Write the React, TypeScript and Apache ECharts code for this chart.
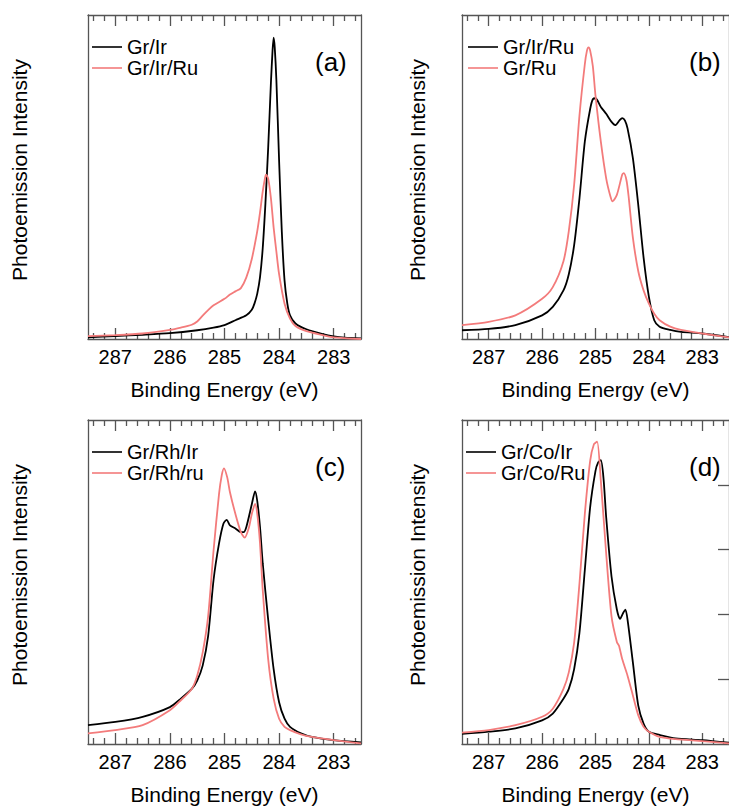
import React, { useEffect, useRef } from "react";
import * as echarts from "echarts";

// ---------- data (binding energy eV, intensity 0..100 of panel height) ----------
const MAJOR_TICKS = [283, 284, 285, 286, 287];
const MINOR_TICKS = [282.6, 282.8, 283.2, 283.4, 283.6, 283.8, 284.2, 284.4, 284.6, 284.8, 285.2, 285.4, 285.6, 285.8, 286.2, 286.4, 286.6, 286.8, 287.2, 287.4];
const D_RIGHT_TICKS = [20, 40, 60, 80];

const A_GR_IR: [number, number][] = [
  [287.5, 0.5], [287.0, 0.9], [286.5, 1.3], [286.0, 1.8], [285.5, 2.7], [285.2, 3.5], [285.0, 4.3],
  [284.8, 5.8], [284.6, 7.3], [284.5, 9], [284.45, 11], [284.4, 14], [284.35, 19], [284.3, 28],
  [284.25, 42], [284.2, 59], [284.15, 79], [284.12, 89], [284.1, 93], [284.08, 90], [284.05, 80],
  [284.0, 55], [283.95, 33], [283.9, 18], [283.85, 11], [283.8, 7.3], [283.7, 4.8], [283.5, 3],
  [283.2, 1.5], [283.0, 0.8], [282.8, 0.4], [282.5, 0.2],
];
const A_GR_IR_RU: [number, number][] = [
  [287.5, 0.9], [287.0, 1.2], [286.5, 1.7], [286.0, 2.8], [285.8, 3.5], [285.6, 4.4], [285.5, 5.4],
  [285.4, 7.2], [285.3, 8.9], [285.2, 10.4], [285.0, 12.4], [284.9, 13.7], [284.8, 14.7], [284.7, 15.7],
  [284.6, 19], [284.5, 24.7], [284.4, 33.3], [284.35, 39], [284.3, 45.5], [284.26, 49.5], [284.24, 50.7],
  [284.2, 49.5], [284.15, 43.5], [284.1, 34.4], [284.05, 27], [284.0, 20], [283.9, 10.9], [283.8, 6.3],
  [283.7, 4], [283.5, 2.4], [283.2, 1.2], [283.0, 0.5], [282.5, 0],
];

const B_GR_IR_RU: [number, number][] = [
  [287.5, 2.7], [287.0, 3.1], [286.5, 4.3], [286.0, 7.3], [285.8, 9.9], [285.6, 15], [285.5, 20],
  [285.4, 29], [285.3, 43.5], [285.2, 60.9], [285.1, 71], [285.05, 74], [285.0, 74.3], [284.9, 71.6],
  [284.8, 69.5], [284.7, 67], [284.63, 66], [284.55, 67.5], [284.5, 68.2], [284.45, 67.5], [284.4, 65],
  [284.3, 55.8], [284.2, 41.5], [284.1, 25.2], [284.0, 13], [283.9, 5.8], [283.8, 3.8], [283.6, 2.8],
  [283.4, 2.2], [283.0, 1.7], [282.5, 0.6],
];
const B_GR_RU: [number, number][] = [
  [287.5, 4.3], [287.0, 5.3], [286.5, 7.3], [286.0, 12.4], [285.8, 16], [285.6, 24], [285.5, 33.3],
  [285.4, 47.6], [285.3, 69], [285.2, 84.8], [285.16, 89], [285.13, 90], [285.1, 89], [285.05, 84.2],
  [285.0, 75.1], [284.9, 60.9], [284.8, 49.6], [284.72, 44], [284.68, 42.5], [284.6, 44.5], [284.5, 50.7],
  [284.47, 51.2], [284.42, 49], [284.38, 44], [284.3, 31.3], [284.2, 21], [284.1, 15], [284.0, 10.9],
  [283.9, 7.8], [283.8, 5.8], [283.6, 3.8], [283.4, 2.8], [283.0, 1.7], [282.5, 0.5],
];

const C_GR_RH_IR: [number, number][] = [
  [287.5, 5.8], [287.0, 6.8], [286.5, 8.4], [286.0, 11.4], [285.8, 14], [285.6, 17], [285.5, 19.6],
  [285.4, 24.2], [285.3, 33.3], [285.2, 50.7], [285.1, 61.9], [285.02, 68], [284.96, 69.2], [284.9, 67.5],
  [284.8, 66.5], [284.7, 65.4], [284.65, 65.4], [284.6, 67], [284.5, 74], [284.44, 78], [284.4, 75],
  [284.35, 67], [284.3, 55.8], [284.2, 38.4], [284.1, 23.1], [284.0, 12.9], [283.9, 7.8], [283.8, 5.3],
  [283.6, 3.3], [283.4, 2.2], [283.0, 1.2], [282.5, 0.5],
];
const C_GR_RH_RU: [number, number][] = [
  [287.5, 3.3], [287.0, 4.3], [286.5, 5.8], [286.0, 10.4], [285.8, 13.5], [285.6, 17], [285.5, 21.1],
  [285.4, 28.2], [285.3, 39.4], [285.2, 59.8], [285.1, 77.2], [285.05, 83], [285.01, 85.1], [284.95, 82.3],
  [284.9, 77.7], [284.8, 71], [284.7, 65.4], [284.63, 63.7], [284.55, 67], [284.5, 71], [284.44, 74.1],
  [284.4, 71], [284.35, 62], [284.3, 47.6], [284.2, 26.2], [284.1, 14], [284.0, 7.8], [283.9, 5.3],
  [283.8, 4.3], [283.6, 3], [283.4, 2.2], [283.0, 1.2], [282.5, 0.2],
];

const D_GR_CO_IR: [number, number][] = [
  [287.5, 3.1], [287.0, 3.8], [286.5, 4.8], [286.0, 7.3], [285.8, 9.4], [285.6, 14], [285.5, 17],
  [285.4, 23.1], [285.3, 34.4], [285.2, 53.7], [285.1, 73.1], [285.0, 84.3], [284.95, 86.9], [284.9, 87.6],
  [284.85, 82], [284.8, 70], [284.7, 51.7], [284.6, 41.5], [284.54, 38.6], [284.48, 40.5], [284.44, 41.5],
  [284.4, 38.4], [284.3, 25.2], [284.2, 11.9], [284.1, 6.3], [284.0, 3.8], [283.8, 2.8], [283.5, 1.7],
  [283.0, 1.2], [282.5, 0.4],
];
const D_GR_CO_RU: [number, number][] = [
  [287.5, 3.5], [287.0, 4.3], [286.5, 5.8], [286.0, 8.4], [285.8, 10.9], [285.6, 17], [285.5, 22.1],
  [285.4, 31.3], [285.3, 49.6], [285.2, 71], [285.1, 87.4], [285.03, 92.5], [284.97, 93.3], [284.9, 81.2],
  [284.8, 58.8], [284.7, 39.4], [284.6, 31.5], [284.56, 30.3], [284.5, 26.2], [284.4, 21.1], [284.3, 15],
  [284.2, 8.9], [284.1, 5.3], [284.0, 3.8], [283.8, 2.2], [283.5, 1.5], [283.0, 0.9], [282.5, 0.2],
];

// ---------- styling ----------
const FONT = "'Liberation Sans', Arial, Helvetica, sans-serif";
const FRAME = "#555555";
const BLACK = "#000000";
const PINK = "#f37b7b";

type Panel = {
  id: string;
  left: number;
  top: number;
  width: number;
  gridLeft: number;
  nameGap: number;
  legendLeft: number;
  labelLeft: number;
  label: string;
  names: [string, string];
  black: [number, number][];
  pink: [number, number][];
  rightTicks: boolean;
};

const PANELS: Panel[] = [
  { id: "a", left: 0, top: 0, width: 364, gridLeft: 88, nameGap: 58, legendLeft: 92, labelLeft: 315, label: "(a)", names: ["Gr/Ir", "Gr/Ir/Ru"], black: A_GR_IR, pink: A_GR_IR_RU, rightTicks: false },
  { id: "b", left: 364, top: 0, width: 365, gridLeft: 98, nameGap: 34, legendLeft: 104, labelLeft: 325, label: "(b)", names: ["Gr/Ir/Ru", "Gr/Ru"], black: B_GR_IR_RU, pink: B_GR_RU, rightTicks: false },
  { id: "c", left: 0, top: 405, width: 364, gridLeft: 88, nameGap: 58, legendLeft: 92, labelLeft: 315, label: "(c)", names: ["Gr/Rh/Ir", "Gr/Rh/ru"], black: C_GR_RH_IR, pink: C_GR_RH_RU, rightTicks: false },
  { id: "d", left: 364, top: 405, width: 365, gridLeft: 98, nameGap: 34, legendLeft: 102, labelLeft: 325, label: "(d)", names: ["Gr/Co/Ir", "Gr/Co/Ru"], black: D_GR_CO_IR, pink: D_GR_CO_RU, rightTicks: true },
];

function tickAxis(position: "top" | "bottom", values: number[], length: number, extra: any = {}) {
  return {
    type: "value",
    position,
    min: 282.5,
    max: 287.5,
    inverse: true,
    axisLine: { show: false },
    axisTick: { show: true, inside: true, length, customValues: values, lineStyle: { color: FRAME, width: 1.3 } },
    axisLabel: { show: false },
    splitLine: { show: false },
    ...extra,
  };
}

function buildOption(p: Panel): any {
  const lineSeries = (name: string, data: [number, number][], color: string) => ({
    name,
    type: "line",
    data,
    xAxisIndex: 0,
    yAxisIndex: 0,
    symbol: "none",
    showSymbol: false,
    smooth: 0.25,
    lineStyle: { color, width: 1.8 },
    itemStyle: { color },
    emphasis: { disabled: true },
  });
  return {
    animation: false,
    textStyle: { fontFamily: FONT },
    title: {
      text: p.label,
      left: p.labelLeft,
      top: 49,
      padding: 0,
      textStyle: { fontSize: 26, fontWeight: "normal", color: "#000", fontFamily: FONT },
    },
    legend: {
      orient: "vertical",
      left: p.legendLeft,
      top: 37,
      padding: 0,
      icon: "rect",
      itemWidth: 30,
      itemHeight: 1.6,
      itemGap: 1,
      selectedMode: false,
      textStyle: { fontSize: 20, color: "#000", fontFamily: FONT },
      data: p.names,
    },
    grid: { left: p.gridLeft, top: 15, width: 273, height: 327 },
    xAxis: [
      {
        type: "value",
        position: "bottom",
        min: 282.5,
        max: 287.5,
        inverse: true,
        name: "Binding Energy (eV)",
        nameLocation: "middle",
        nameGap: 40,
        nameTextStyle: { fontSize: 21, color: "#000", fontFamily: FONT },
        axisLine: { show: true, lineStyle: { color: FRAME, width: 1.3 } },
        axisTick: { show: true, inside: true, length: 11, customValues: MAJOR_TICKS, lineStyle: { color: FRAME, width: 1.3 } },
        axisLabel: { show: true, customValues: MAJOR_TICKS, margin: 8, fontSize: 20, color: "#000", fontFamily: FONT },
        splitLine: { show: false },
      },
      tickAxis("bottom", MINOR_TICKS, 6),
      tickAxis("top", MAJOR_TICKS, 11, { axisLine: { show: true, lineStyle: { color: FRAME, width: 1.3 } } }),
      tickAxis("top", MINOR_TICKS, 6),
    ],
    yAxis: [
      {
        type: "value",
        position: "left",
        min: 0,
        max: 100,
        name: "Photoemission Intensity",
        nameLocation: "middle",
        nameGap: p.nameGap,
        nameTextStyle: { fontSize: 21, color: "#000", fontFamily: FONT, padding: [0, 0, 0, 14] },
        axisLine: { show: true, lineStyle: { color: FRAME, width: 1.3 } },
        axisTick: { show: false },
        axisLabel: { show: false },
        splitLine: { show: false },
      },
      {
        type: "value",
        position: "right",
        min: 0,
        max: 100,
        axisLine: { show: true, lineStyle: { color: FRAME, width: 1.3 } },
        axisTick: p.rightTicks
          ? { show: true, inside: true, length: 11, customValues: D_RIGHT_TICKS, lineStyle: { color: FRAME, width: 1.3 } }
          : { show: false },
        axisLabel: { show: false },
        splitLine: { show: false },
      },
    ],
    series: [lineSeries(p.names[0], p.black, BLACK), lineSeries(p.names[1], p.pink, PINK)],
  };
}

function ChartPanel({ panel }: { panel: Panel }) {
  const ref = useRef<HTMLDivElement>(null);
  useEffect(() => {
    if (!ref.current) return;
    const chart = echarts.init(ref.current, undefined, { renderer: "svg" });
    chart.setOption(buildOption(panel));
    return () => chart.dispose();
  }, [panel]);
  return (
    <div
      ref={ref}
      style={{ position: "absolute", left: panel.left, top: panel.top, width: panel.width, height: 405, overflow: "hidden" }}
    />
  );
}

export default function App() {
  return (
    <div style={{ position: "fixed", left: 0, top: 0, width: 729, height: 810, background: "#ffffff", overflow: "hidden" }}>
      {PANELS.map((p) => (
        <ChartPanel key={p.id} panel={p} />
      ))}
    </div>
  );
}
